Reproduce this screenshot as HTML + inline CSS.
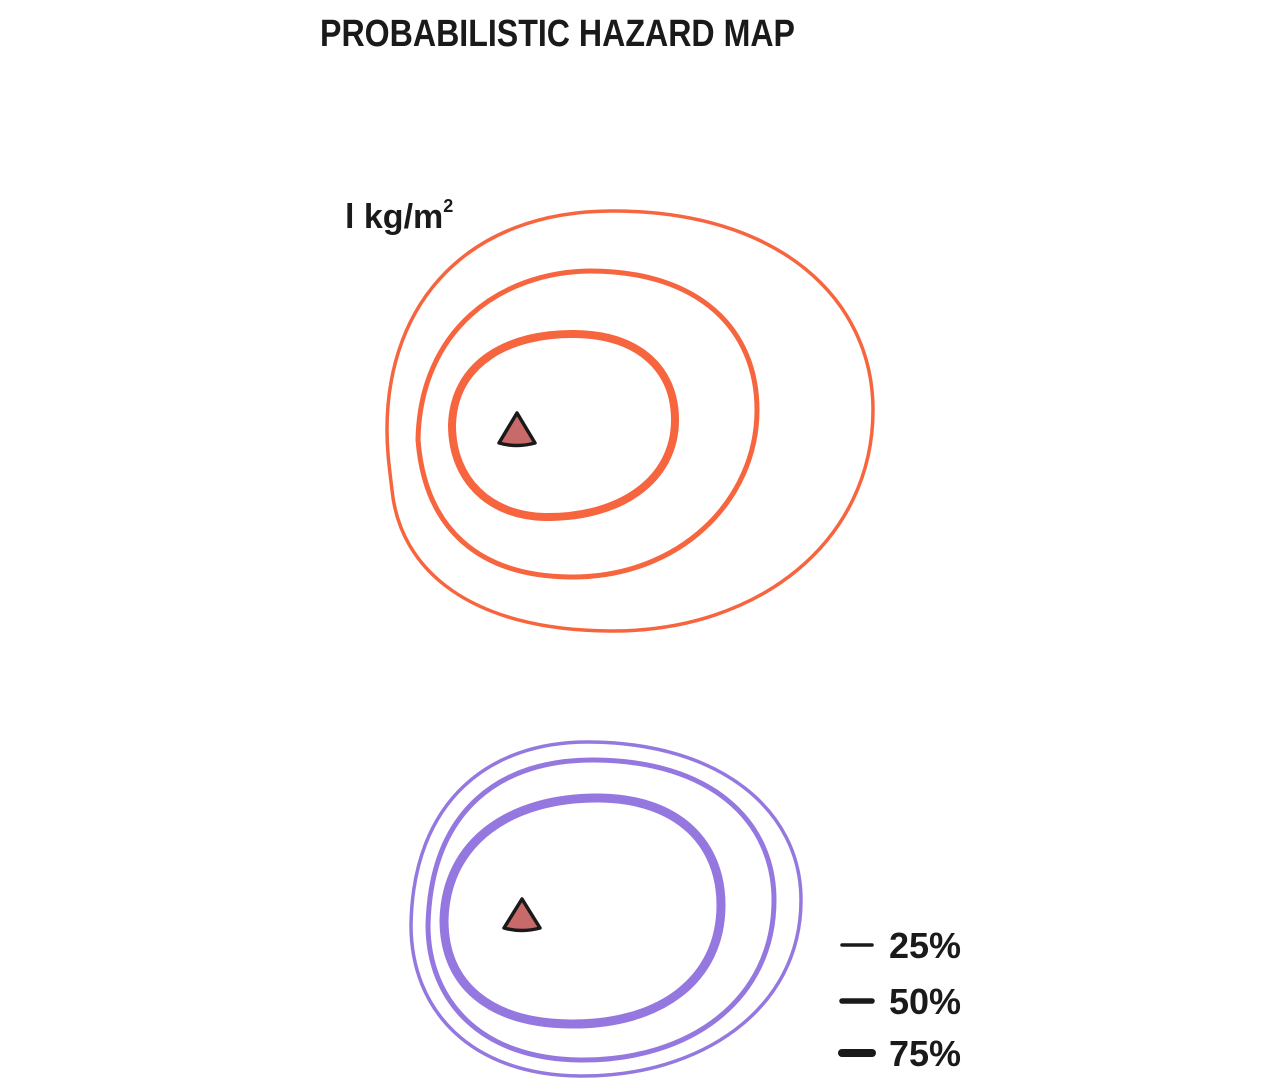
<!DOCTYPE html>
<html><head><meta charset="utf-8"><style>
html,body{margin:0;padding:0;background:#fff;width:1276px;height:1090px;overflow:hidden}
svg{display:block}
text{font-family:"Liberation Sans",sans-serif;fill:#1a1a1a;font-weight:bold}
</style></head><body>
<svg width="1276" height="1090" viewBox="0 0 1276 1090">
<text x="320" y="46" font-size="38" textLength="475" lengthAdjust="spacingAndGlyphs">PROBABILISTIC HAZARD MAP</text>
<text x="345" y="228" font-size="34">l kg/m<tspan font-size="18" dy="-16">2</tspan></text>
<g fill="none" stroke="#f7653f" stroke-linejoin="round">
<path stroke-width="3.5" d="M 387 430 C 387 300, 470 212, 610 211 C 780 210, 873 300, 873 410 C 873 540, 760 632, 610 631 C 470 630, 400 570, 392 490 C 389 465, 387 450, 387 430 Z"/>
<path stroke-width="5" d="M 418 440 C 420 330, 500 272, 590 271 C 700 271, 757 330, 757 410 C 757 500, 680 578, 570 577 C 480 576, 425 530, 418 440 Z"/>
<path stroke-width="8" d="M 452 425 C 454 362, 510 333, 575 334 C 640 335, 675 370, 675 420 C 675 480, 620 518, 545 517 C 490 516, 452 480, 452 425 Z"/>
</g>
<path d="M 517 413 L 535 443 Q 517 448 499 443 Z" fill="#c96a6a" stroke="#1a1a1a" stroke-width="3.5" stroke-linejoin="round"/>
<g fill="none" stroke="#9478e0" stroke-linejoin="round">
<path stroke-width="3.5" d="M 411 925 C 413 800, 490 741, 590 742 C 720 743, 801 810, 801 900 C 801 1010, 700 1077, 580 1076 C 470 1075, 411 1010, 411 925 Z"/>
<path stroke-width="5" d="M 428 925 C 431 810, 500 759, 595 760 C 710 761, 774 820, 774 900 C 774 1000, 690 1061, 580 1060 C 480 1059, 428 1000, 428 925 Z"/>
<path stroke-width="9" d="M 444 920 C 446 842, 510 797, 600 798 C 680 799, 721 845, 721 905 C 721 980, 660 1025, 570 1024 C 490 1023, 444 985, 444 920 Z"/>
</g>
<path d="M 522 899 L 540 928 Q 522 933 504 928 Z" fill="#c96a6a" stroke="#1a1a1a" stroke-width="3.5" stroke-linejoin="round"/>
<g id="legend"></g>
</svg>
<script>
const legendLabels = ["25%", "50%", "75%"];
const legendWidths = [3.5, 5.5, 8];
const ns = "http://www.w3.org/2000/svg";
const lg = document.getElementById("legend");
const rowY = [945, 1001, 1053];
legendLabels.forEach((lab, i) => {
  const ln = document.createElementNS(ns, "line");
  
  
  ln.setAttribute("x1", 842); ln.setAttribute("x2", 872);
  ln.setAttribute("y1", rowY[i]); ln.setAttribute("y2", rowY[i]);
  ln.setAttribute("stroke", "#1a1a1a");
  ln.setAttribute("stroke-width", legendWidths[i]);
  ln.setAttribute("stroke-linecap", "round");
  lg.appendChild(ln);
  const t = document.createElementNS(ns, "text");
  
  
  t.setAttribute("x", 889); t.setAttribute("y", rowY[i] + 13);
  t.setAttribute("font-size", "36");
  t.textContent = lab;
  lg.appendChild(t);
});
</script>
</body></html>
